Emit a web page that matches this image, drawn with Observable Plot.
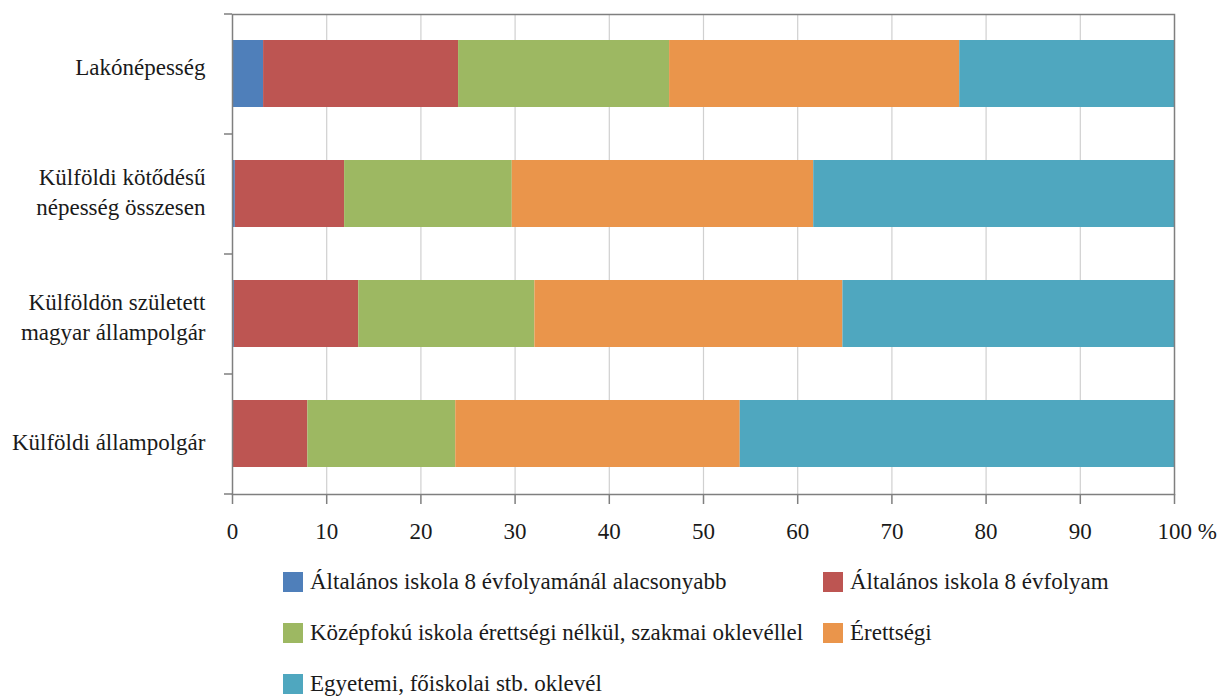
<!DOCTYPE html>
<html>
<head>
<meta charset="utf-8">
<script src="https://cdn.jsdelivr.net/npm/d3@7"></script>
<script src="https://cdn.jsdelivr.net/npm/@observablehq/plot@0.6"></script>
<style>
  body { margin: 0; background: #fff; }
  #wrap { width: 1224px; position: relative; font-family: "Liberation Serif", "Times New Roman", serif; color: #1a1a1a; }
  #legend { display: grid; grid-template-columns: 540px auto; grid-auto-rows: 51px; padding-left: 283px; }
  .item { display: flex; align-items: center; font-size: 23px; white-space: nowrap; }
  .sw { width: 20px; height: 20px; margin-right: 7px; flex: none; }
</style>
</head>
<body>
<div id="wrap"></div>
<script>
const categories = ["Lakónépesség", "Külföldi kötődésű\nnépesség összesen", "Külföldön született\nmagyar állampolgár", "Külföldi állampolgár"];
const levels = [
  "Általános iskola 8 évfolyamánál alacsonyabb",
  "Általános iskola 8 évfolyam",
  "Középfokú iskola érettségi nélkül, szakmai oklevéllel",
  "Érettségi",
  "Egyetemi, főiskolai stb. oklevél"
];
const colors = ["#4f7fba", "#bd5552", "#9db862", "#ea954b", "#4fa7bf"];
// values per level, in category order (percent)
const lower8     = [3.3, 0.3, 0.2, 0.1];
const grade8     = [20.7, 11.6, 13.2, 7.9];
const vocational = [22.4, 17.8, 18.7, 15.7];
const matura     = [30.8, 32.0, 32.7, 30.2];
const degree     = [22.8, 38.3, 35.2, 46.1];
const xTicks = [0, 10, 20, 30, 40, 50, 60, 70, 80, 90, 100];
const xTickLabels = ["0", "10", "20", "30", "40", "50", "60", "70", "80", "90", "100 %"];

const series = [lower8, grade8, vocational, matura, degree];
const data = [];
categories.forEach((c, ci) => series.forEach((s, li) => data.push({category: c, level: levels[li], value: s[ci]})));

const W = 1224, H = 556, mT = 14, mB = 62, mL = 232, mR = 50;
const half = (H - mT - mB) / categories.length / 2;
const axisGray = "#7f7f7f";
const fmt = d => xTickLabels[xTicks.indexOf(d)];

const chart = Plot.plot({
  width: W, height: H,
  marginTop: mT, marginBottom: mB, marginLeft: mL, marginRight: mR,
  x: {domain: [0, 100]},
  y: {domain: categories, paddingInner: 0.44, paddingOuter: 0.22},
  color: {domain: levels, range: colors},
  style: {fontFamily: "'Liberation Serif', 'Times New Roman', serif", fontSize: "23px", color: "#1a1a1a", background: "white"},
  marks: [
    Plot.gridX(xTicks.slice(1, -1), {stroke: "#d0d0d0", strokeOpacity: 1, strokeWidth: 1.2}),
    Plot.barX(data, Plot.stackX({x: "value", y: "category", fill: "level", order: levels})),
    Plot.frame({stroke: axisGray, strokeWidth: 1.5}),
    Plot.axisX({ticks: xTicks, tickSize: 10, tickPadding: 18, stroke: axisGray, strokeWidth: 1.5,
      tickFormat: d => d === 100 ? "" : fmt(d), label: null}),
    Plot.axisX({ticks: xTicks.slice(-1), tickSize: 0, tickPadding: 28,
      tickFormat: fmt, textAnchor: "start", dx: -17, label: null}),
    Plot.axisY({ticks: categories, tickSize: 8, tickFormat: () => "", dy: -half, stroke: axisGray, strokeWidth: 1.5, label: null}),
    Plot.axisY({ticks: categories.slice(-1), tickSize: 8, tickFormat: () => "", dy: half, stroke: axisGray, strokeWidth: 1.5, label: null}),
    ...categories.map((c, i) => Plot.axisY({ticks: [c], tickSize: 0, tickPadding: 27, lineHeight: 1.32, dy: -9 + 5 * i, label: null}))
  ]
});

const wrap = document.getElementById("wrap");
wrap.appendChild(chart);
const legend = document.createElement("div");
legend.id = "legend";
levels.forEach((l, i) => {
  const it = document.createElement("div");
  it.className = "item";
  const sw = document.createElement("span");
  sw.className = "sw";
  sw.style.background = colors[i];
  it.appendChild(sw);
  it.appendChild(document.createTextNode(l));
  legend.appendChild(it);
});
wrap.appendChild(legend);
</script>
</body>
</html>
